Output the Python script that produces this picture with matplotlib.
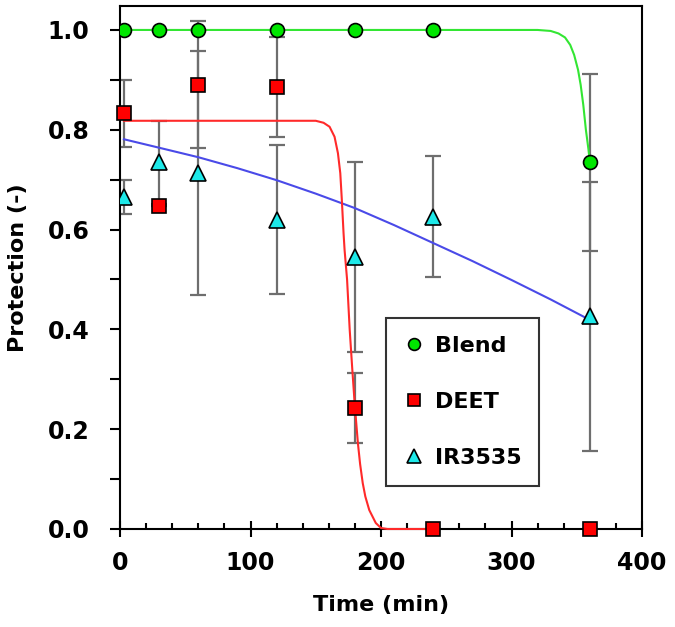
import numpy as np
import matplotlib.pyplot as plt
from matplotlib.lines import Line2D
from matplotlib.ticker import MultipleLocator

# measured points
time = [3, 30, 60, 120, 180, 240, 360]
blend = [1.0, 1.0, 1.0, 1.0, 1.0, 1.0, 0.735]
blend_err = [0, 0, 0, 0, 0, 0, 0.177]
deet = [0.833, 0.648, 0.890, 0.885, 0.243, 0.0, 0.0]
deet_err = [0.067, 0.0, 0.127, 0.10, 0.07, 0.0, 0.0]
ir = [0.665, 0.735, 0.713, 0.620, 0.545, 0.626, 0.426]
ir_err = [0.034, 0.083, 0.245, 0.15, 0.19, 0.121, 0.27]

# fitted curves
blend_fit_x = [3, 320, 330, 336, 341, 345, 348, 351, 353, 355, 357, 359, 360]
blend_fit_y = [1.0, 1.0, 0.998, 0.993, 0.985, 0.97, 0.95, 0.92, 0.89, 0.85, 0.80, 0.76, 0.735]
deet_fit_x = [3, 150, 156, 160.6, 164.4, 167, 168.8, 170, 171.3, 172.1, 174, 176, 178, 180,
              182.3, 184, 186, 188, 191, 196, 200, 205, 240]
deet_fit_y = [0.818, 0.818, 0.814, 0.806, 0.786, 0.753, 0.713, 0.659, 0.593, 0.559, 0.50, 0.40,
              0.32, 0.245, 0.172, 0.13, 0.092, 0.065, 0.038, 0.012, 0.002, 0.0, 0.0]
ir_fit_x = [3, 30, 60, 90, 120, 150, 180, 210, 240, 270, 300, 330, 360]
ir_fit_y = [0.781, 0.764, 0.745, 0.723, 0.699, 0.672, 0.643, 0.609, 0.573, 0.537, 0.499, 0.460, 0.419]

plt.rcParams['font.family'] = 'DejaVu Sans'
plt.rcParams['font.weight'] = 'bold'

fig = plt.figure(figsize=(6.75, 6.27), dpi=100)
ax = fig.add_axes([120/675, 98/627, 522/675, 523/627])

ecol = '#6e6e6e'
for y, e in [(blend, blend_err), (deet, deet_err), (ir, ir_err)]:
    ax.errorbar(time, y, yerr=e, fmt='none', ecolor=ecol, elinewidth=1.6,
                capsize=5.5, capthick=1.6, zorder=2)

ax.plot(ir_fit_x, ir_fit_y, color='#4a4ae8', lw=1.5, zorder=3)
ax.plot(deet_fit_x, deet_fit_y, color='#ff2a2a', lw=1.5, zorder=3, clip_on=False)
ax.plot(blend_fit_x, blend_fit_y, color='#33e633', lw=1.5, zorder=3)

ax.plot(time, blend, 'o', ms=10, mfc='#00e600', mec='black', mew=1.2, ls='none', zorder=5)
ax.plot(time, deet, 's', ms=9.5, mfc='#ff0000', mec='black', mew=1.2, ls='none', zorder=5,
        clip_on=False)
ax.plot(time, ir, '^', ms=12, mfc='#1de9e9', mec='black', mew=1.2, ls='none', zorder=5)

ax.set_xlim(0, 400)
ax.set_ylim(0, 1.048)
ax.xaxis.set_major_locator(MultipleLocator(100))
ax.xaxis.set_minor_locator(MultipleLocator(20))
ax.yaxis.set_major_locator(MultipleLocator(0.2))
ax.yaxis.set_minor_locator(MultipleLocator(0.1))
ax.yaxis.set_major_formatter(plt.FuncFormatter(lambda v, p: f"{v:.1f}"))

ax.tick_params(axis='x', which='major', direction='inout', length=12, width=1.5,
               labelsize=17, pad=10)
ax.tick_params(axis='x', which='minor', direction='in', length=4.5, width=1.5)
ax.tick_params(axis='y', which='both', direction='out', length=7, width=1.5,
               labelsize=17, pad=15)
for s in ax.spines.values():
    s.set_linewidth(1.5)

ax.set_xlabel("Time (min)", fontsize=16, fontweight='bold', labelpad=14)
ax.set_ylabel("Protection (-)", fontsize=16, fontweight='bold', labelpad=14)

handles = [
    Line2D([], [], marker='o', ls='none', ms=8.5, mfc='#00e600', mec='black', mew=1.2),
    Line2D([], [], marker='s', ls='none', ms=8, mfc='#ff0000', mec='black', mew=1.2),
    Line2D([], [], marker='^', ls='none', ms=10, mfc='#1de9e9', mec='black', mew=1.2),
]
leg = ax.legend(handles, ["Blend", "DEET", "IR3535"], loc='upper left',
                bbox_to_anchor=(386/675, 1 - 318/627), bbox_transform=fig.transFigure,
                fontsize=16, frameon=True, fancybox=False, edgecolor='black',
                borderpad=0.8, labelspacing=1.62, handlelength=0.9, handletextpad=0.5,
                borderaxespad=0)
leg.get_frame().set_linewidth(1.5)
leg.set_zorder(6)

fig.savefig("out.png", dpi=100)
